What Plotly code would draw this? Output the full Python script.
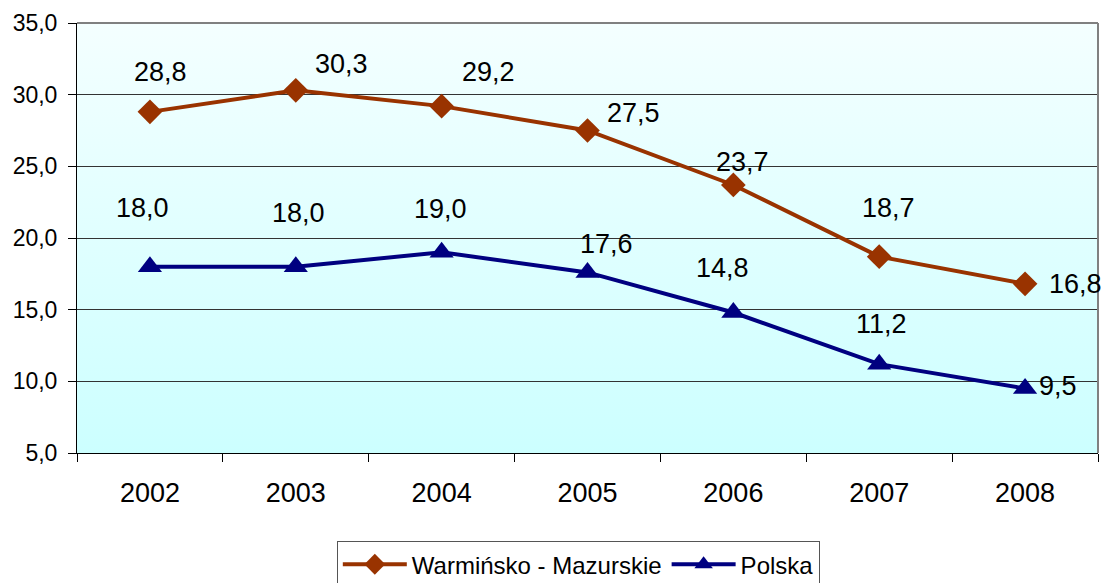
import plotly.graph_objects as go

# Data
years = ["2002", "2003", "2004", "2005", "2006", "2007", "2008"]
warm_maz = [28.8, 30.3, 29.2, 27.5, 23.7, 18.7, 16.8]
polska = [18.0, 18.0, 19.0, 17.6, 14.8, 11.2, 9.5]

# label offsets in pixels (dx, dy) relative to the point
warm_off = [(11, -40), (46, -26), (47, -34), (46, -18), (9, -23), (9, -49), (50, 0)]
pol_off = [(-7, -59), (3, -54), (-1, -43), (19, -28), (-11, -45), (2, -40), (33, -3)]

WM_COLOR = "#993300"
PL_COLOR = "#000080"
FONT = "Liberation Sans, Arial, sans-serif"

fig = go.Figure()
fig.add_trace(go.Scatter(x=years, y=warm_maz, name="Warmińsko - Mazurskie", mode="lines+markers",
                         line=dict(color=WM_COLOR, width=4),
                         marker=dict(symbol="diamond", size=19, color=WM_COLOR)))
fig.add_trace(go.Scatter(x=years, y=polska, name="Polska", mode="lines+markers",
                         line=dict(color=PL_COLOR, width=4),
                         marker=dict(symbol="triangle-up", size=21, color=PL_COLOR)))

def fmt(v):
    return f"{v:.1f}".replace(".", ",")

for vals, offs in [(warm_maz, warm_off), (polska, pol_off)]:
    for i, (v, (dx, dy)) in enumerate(zip(vals, offs)):
        fig.add_annotation(x=i, y=v, text=fmt(v), showarrow=False,
                           xshift=dx, yshift=-dy,
                           font=dict(family=FONT, size=27, color="black"))

# gradient background for the plot area
grad_svg = (
    "data:image/svg+xml;utf8,"
    "<svg xmlns='http://www.w3.org/2000/svg' width='100' height='100' preserveAspectRatio='none'>"
    "<defs><linearGradient id='g' x1='0' y1='0' x2='0' y2='1'>"
    "<stop offset='0' stop-color='%23F4FFFF'/><stop offset='1' stop-color='%23CCFFFF'/>"
    "</linearGradient></defs><rect width='100' height='100' fill='url(%23g)'/></svg>"
)
fig.add_layout_image(source=grad_svg, xref="paper", yref="paper", x=0, y=1,
                     sizex=1, sizey=1, sizing="stretch", layer="below")

# gray frame on top and right
fig.add_shape(type="line", xref="paper", yref="paper", x0=0, x1=1, y0=1, y1=1,
              line=dict(color="#808080", width=2))
fig.add_shape(type="line", xref="paper", yref="paper", x0=1, x1=1, y0=0, y1=1,
              line=dict(color="#808080", width=2))

fig.update_layout(
    width=1103, height=583,
    margin=dict(l=77, r=5, t=23, b=130, autoexpand=False),
    paper_bgcolor="white",
    plot_bgcolor="rgba(0,0,0,0)",
    separators=", ",
    font=dict(family=FONT, size=22, color="black"),
    showlegend=True,
    legend=dict(orientation="h", x=0.491, xanchor="center", y=-0.205, yanchor="top",
                bordercolor="#555555", borderwidth=1, bgcolor="white",
                font=dict(size=24), itemwidth=64, tracegroupgap=0),
    xaxis=dict(type="category", showline=True, linecolor="black", linewidth=1,
               ticks="outside", tickson="boundaries", ticklen=8, tickcolor="black",
               showgrid=False, tickfont=dict(size=27), ticklabelstandoff=16,
               range=[-0.5, 6.5], automargin=False),
    yaxis=dict(range=[5, 35], dtick=5, tickformat=".1f", showline=True, linecolor="black",
               linewidth=1, ticks="outside", ticklen=8, tickcolor="black",
               showgrid=True, gridcolor="#333333", gridwidth=1, zeroline=False,
               tickfont=dict(size=23), ticklabelstandoff=6, automargin=False),
)

fig.write_html("out.html", config={"displayModeBar": False},
               post_script="document.body.style.margin='0';document.body.style.overflow='hidden';")
